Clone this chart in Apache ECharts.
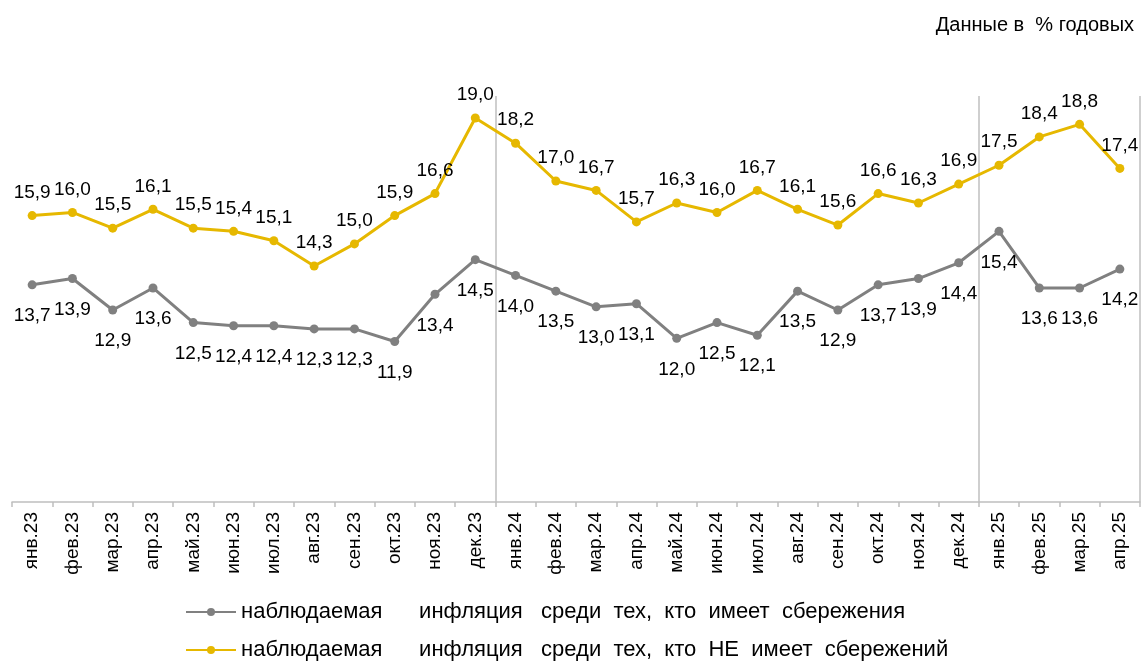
<!DOCTYPE html>
<html>
<head>
<meta charset="utf-8">
<script src="https://cdn.jsdelivr.net/npm/echarts@6/dist/echarts.min.js"></script>
<style>
  html, body { margin: 0; padding: 0; background: #fff; }
  #chart { width: 1144px; height: 664px; }
</style>
</head>
<body>
<div id="chart"></div>
<script>
const months = ['янв.23', 'фев.23', 'мар.23', 'апр.23', 'май.23', 'июн.23', 'июл.23', 'авг.23', 'сен.23', 'окт.23', 'ноя.23', 'дек.23',
    'янв.24', 'фев.24', 'мар.24', 'апр.24', 'май.24', 'июн.24', 'июл.24', 'авг.24', 'сен.24', 'окт.24', 'ноя.24', 'дек.24',
    'янв.25', 'фев.25', 'мар.25', 'апр.25'];

const withSavings = [13.7, 13.9, 12.9, 13.6, 12.5, 12.4, 12.4, 12.3, 12.3, 11.9, 13.4, 14.5,
    14.0, 13.5, 13.0, 13.1, 12.0, 12.5, 12.1, 13.5, 12.9, 13.7, 13.9, 14.4,
    15.4, 13.6, 13.6, 14.2];

const withoutSavings = [15.9, 16.0, 15.5, 16.1, 15.5, 15.4, 15.1, 14.3, 15.0, 15.9, 16.6, 19.0,
    18.2, 17.0, 16.7, 15.7, 16.3, 16.0, 16.7, 16.1, 15.6, 16.6, 16.3, 16.9,
    17.5, 18.4, 18.8, 17.4];

// wide gaps between words as in the original legend
const seriesNames = [
    'наблюдаемая      инфляция   среди  тех,  кто  имеет  сбережения',
    'наблюдаемая      инфляция   среди  тех,  кто  НЕ  имеет  сбережений'
];

// year boundaries (before янв.24 and янв.25)
const yearBreaks = [12, 24];

const chart = echarts.init(document.getElementById('chart'));

const fmt = function (p) {
    return p.value.toFixed(1).replace('.', ',');
};

const legendBase = {
    orient: 'vertical',
    left: 180,
    itemWidth: 50,
    itemHeight: 10,
    textStyle: { fontSize: 22, color: '#000' }
};

let option = {
    animation: false,
    textStyle: { fontFamily: 'Liberation Sans, Arial, sans-serif' },
    title: {
        text: 'Данные в  % годовых',
        right: 5,
        top: 10,
        textStyle: { fontSize: 20, fontWeight: 'normal', color: '#000' }
    },
    legend: [
        Object.assign({ top: 596, data: [seriesNames[0]] }, legendBase),
        Object.assign({ top: 634, data: [seriesNames[1]] }, legendBase)
    ],
    grid: {
        left: 12,
        right: 4,
        top: 96,
        bottom: 162
    },
    xAxis: {
        type: 'category',
        data: months,
        boundaryGap: true,
        axisLine: { lineStyle: { color: '#bfbfbf', width: 1.5 } },
        axisTick: { show: true, interval: 0, length: 5, lineStyle: { color: '#bfbfbf', width: 1.5 } },
        axisLabel: { interval: 0, rotate: 90, margin: 10, fontSize: 19, color: '#000' },
        splitLine: {
            show: true,
            interval: function (i) { return yearBreaks.indexOf(i) >= 0; },
            lineStyle: { color: '#bfbfbf', width: 1.5 }
        }
    },
    yAxis: {
        type: 'value',
        min: 6.8,
        max: 19.7,
        show: false,
        splitLine: { show: false }
    },
    series: [
        {
            name: seriesNames[0],
            type: 'line',
            data: withSavings,
            symbol: 'circle',
            symbolSize: 9,
            color: '#808080',
            lineStyle: { width: 3, color: '#808080' },
            label: {
                show: true,
                position: 'bottom',
                distance: 17,
                fontSize: 19,
                color: '#000',
                formatter: fmt
            }
        },
        {
            name: seriesNames[1],
            type: 'line',
            data: withoutSavings,
            symbol: 'circle',
            symbolSize: 9,
            color: '#e6b800',
            lineStyle: { width: 3, color: '#e6b800' },
            label: {
                show: true,
                position: 'top',
                distance: 9,
                fontSize: 19,
                color: '#000',
                formatter: fmt
            }
        }
    ]
};

chart.setOption(option);
</script>
</body>
</html>
